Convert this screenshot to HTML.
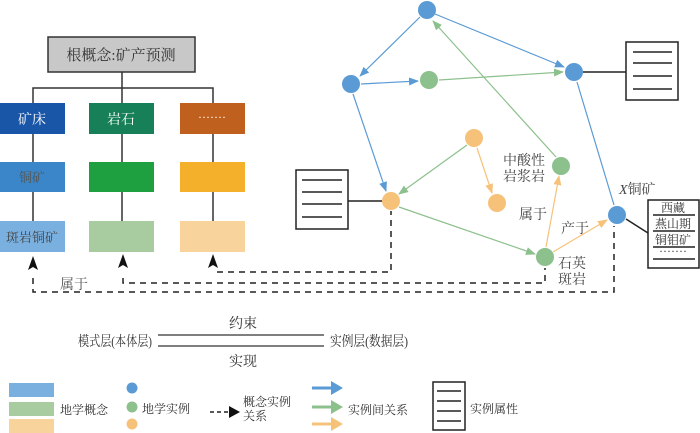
<!DOCTYPE html>
<html><head><meta charset="utf-8"><style>
body{margin:0;background:#fff}
svg{display:block;font-family:"Liberation Serif","Noto Serif CJK SC","Noto Sans CJK SC",serif}
</style></head><body>
<svg width="700" height="433" viewBox="0 0 700 433" xmlns="http://www.w3.org/2000/svg">
<defs>
<marker id="ab" markerWidth="10" markerHeight="8" refX="9" refY="4" orient="auto" markerUnits="userSpaceOnUse"><path d="M0,0 L10,4 L0,8 Z" fill="#5b9bd5"/></marker>
<marker id="ag" markerWidth="10" markerHeight="8" refX="9" refY="4" orient="auto" markerUnits="userSpaceOnUse"><path d="M0,0 L10,4 L0,8 Z" fill="#8cc08c"/></marker>
<marker id="ao" markerWidth="10" markerHeight="8" refX="9" refY="4" orient="auto" markerUnits="userSpaceOnUse"><path d="M0,0 L10,4 L0,8 Z" fill="#f6c27a"/></marker>
</defs>
<rect x="48" y="37" width="147" height="35" fill="#c8c8c8" stroke="#333" stroke-width="1.5"/>
<text x="121" y="60" font-size="15" text-anchor="middle" fill="#333">根概念:矿产预测</text>
<g stroke="#333" stroke-width="1.5" fill="none">
<line x1="122" y1="72" x2="122" y2="252"/>
<polyline points="33,103 33,88 213,88 213,252"/>
<line x1="33" y1="103" x2="33" y2="252"/>
</g>
<rect x="0" y="103" width="65" height="31" fill="#1a56a8"/>
<rect x="89" y="103" width="65" height="31" fill="#178058"/>
<rect x="180" y="103" width="65" height="31" fill="#c0601e"/>
<rect x="0" y="162" width="65" height="30" fill="#3a86c8"/>
<rect x="89" y="162" width="65" height="30" fill="#1fa040"/>
<rect x="180" y="162" width="65" height="30" fill="#f4b02a"/>
<rect x="0" y="221" width="65" height="31" fill="#7ab0e0"/>
<rect x="89" y="221" width="65" height="31" fill="#a8cca0"/>
<rect x="180" y="221" width="65" height="31" fill="#f8d49c"/>
<text x="32" y="124" font-size="14" fill="#fff" text-anchor="middle">矿床</text>
<text x="121" y="124" font-size="14" fill="#fff" text-anchor="middle">岩石</text>
<text x="212" y="121" font-size="12" fill="#fff" text-anchor="middle">·······</text>
<text x="32" y="182" font-size="13" fill="#555" text-anchor="middle">铜矿</text>
<text x="32" y="242" font-size="13" fill="#444" text-anchor="middle">斑岩铜矿</text>
<g fill="#111">
<path d="M33,256 L28,270 L33,267 L38,270 Z"/>
<path d="M123,254 L118,268 L123,265 L128,268 Z"/>
<path d="M213,254 L208,268 L213,265 L218,268 Z"/>
</g>
<g stroke="#222" stroke-width="1.5" fill="none" stroke-dasharray="6,5">
<polyline points="33,278 33,292 614,292 614,226"/>
<polyline points="123,278 123,283 545,283 545,268"/>
<polyline points="217,272 391,272 391,211"/>
</g>
<text x="60" y="289" font-size="14" fill="#555">属于</text>
<g stroke="#222" stroke-width="1.5" fill="#fff">
<rect x="626" y="42" width="52" height="58"/>
<rect x="296" y="170" width="52" height="59"/>
<rect x="648" y="200" width="51" height="68"/>
</g>
<g stroke="#222" stroke-width="1.5">
<line x1="633" y1="52" x2="672" y2="52"/><line x1="633" y1="63" x2="672" y2="63"/><line x1="633" y1="76" x2="672" y2="76"/><line x1="633" y1="89" x2="672" y2="89"/>
<line x1="302" y1="180" x2="342" y2="180"/><line x1="302" y1="192" x2="342" y2="192"/><line x1="302" y1="204" x2="342" y2="204"/><line x1="302" y1="217" x2="342" y2="217"/>
<line x1="653" y1="215" x2="695" y2="215"/><line x1="653" y1="231" x2="695" y2="231"/><line x1="653" y1="247" x2="695" y2="247"/><line x1="653" y1="259" x2="695" y2="259"/>
<line x1="583" y1="72" x2="626" y2="72"/>
<line x1="348" y1="201" x2="382" y2="201"/>
<line x1="626" y1="219" x2="648" y2="233"/>
</g>
<g font-size="12" fill="#333" text-anchor="middle">
<text x="673" y="212">西藏</text>
<text x="673" y="228">燕山期</text>
<text x="673" y="244">铜钼矿</text>
<text x="673" y="255">·······</text>
</g>
<g stroke-width="1.2" fill="none">
<line x1="435" y1="14" x2="564" y2="67" stroke="#5b9bd5" marker-end="url(#ab)"/>
<line x1="420" y1="17" x2="360" y2="76" stroke="#5b9bd5" marker-end="url(#ab)"/>
<line x1="361" y1="84" x2="418" y2="81" stroke="#5b9bd5" marker-end="url(#ab)"/>
<line x1="439" y1="80" x2="563" y2="72" stroke="#8cc08c" marker-end="url(#ag)"/>
<line x1="353" y1="94" x2="386" y2="191" stroke="#5b9bd5" marker-end="url(#ab)"/>
<line x1="577" y1="82" x2="614" y2="205" stroke="#5b9bd5"/>
<line x1="556" y1="157" x2="433" y2="21" stroke="#8cc08c" marker-end="url(#ag)"/>
<line x1="467" y1="145" x2="399" y2="194" stroke="#8cc08c" marker-end="url(#ag)"/>
<line x1="477" y1="148" x2="492" y2="193" stroke="#f6c27a" marker-end="url(#ao)"/>
<line x1="399" y1="207" x2="535" y2="254" stroke="#8cc08c" marker-end="url(#ag)"/>
<line x1="546" y1="247" x2="559" y2="176" stroke="#f6c27a" marker-end="url(#ao)"/>
<line x1="553" y1="252" x2="607" y2="220" stroke="#f6c27a" marker-end="url(#ao)"/>
</g>
<g>
<circle cx="427" cy="10" r="9" fill="#5b9bd5"/>
<circle cx="351" cy="84" r="9" fill="#5b9bd5"/>
<circle cx="429" cy="80" r="9" fill="#8cc08c"/>
<circle cx="574" cy="72" r="9" fill="#5b9bd5"/>
<circle cx="474" cy="138" r="9" fill="#f6c27a"/>
<circle cx="561" cy="166" r="9" fill="#8cc08c"/>
<circle cx="391" cy="201" r="9" fill="#f6c27a"/>
<circle cx="497" cy="203" r="9" fill="#f6c27a"/>
<circle cx="617" cy="215" r="9" fill="#5b9bd5"/>
<circle cx="545" cy="257" r="9" fill="#8cc08c"/>
</g>
<g font-size="14" fill="#444">
<text x="503" y="165">中酸性</text>
<text x="503" y="181">岩浆岩</text>
<text x="519" y="219">属于</text>
<text x="561" y="233">产于</text>
<text x="558" y="268">石英</text>
<text x="558" y="284">斑岩</text>
<text x="619" y="194"><tspan font-style="italic">X</tspan>铜矿</text>
</g>
<line x1="158" y1="335" x2="324" y2="335" stroke="#333" stroke-width="1.2"/>
<line x1="158" y1="346" x2="324" y2="346" stroke="#333" stroke-width="1.2"/>
<g font-size="14" fill="#333">
<text x="243" y="328" text-anchor="middle">约束</text>
<text x="243" y="366" text-anchor="middle">实现</text>
<text x="78" y="346" textLength="74" lengthAdjust="spacingAndGlyphs">模式层(本体层)</text>
<text x="330" y="346" textLength="78" lengthAdjust="spacingAndGlyphs">实例层(数据层)</text>
</g>
<rect x="9" y="383" width="45" height="14" fill="#7ab0e0"/>
<rect x="9" y="402" width="45" height="14" fill="#a8cca0"/>
<rect x="9" y="419" width="45" height="14" fill="#f8d49c"/>
<circle cx="132" cy="388" r="5.5" fill="#5b9bd5"/>
<circle cx="132" cy="407" r="5.5" fill="#8cc08c"/>
<circle cx="132" cy="424" r="5.5" fill="#f6c27a"/>
<line x1="210" y1="412" x2="230" y2="412" stroke="#222" stroke-width="1.5" stroke-dasharray="4,3"/>
<path d="M229,406 L240,412 L229,418 Z" fill="#111"/>
<g stroke-width="3">
<line x1="312" y1="388" x2="332" y2="388" stroke="#5b9bd5"/><path d="M331,381 L343,388 L331,395 Z" fill="#5b9bd5"/>
<line x1="312" y1="407" x2="332" y2="407" stroke="#8cc08c"/><path d="M331,400 L343,407 L331,414 Z" fill="#8cc08c"/>
<line x1="312" y1="424" x2="332" y2="424" stroke="#f6c27a"/><path d="M331,417 L343,424 L331,431 Z" fill="#f6c27a"/>
</g>
<rect x="433" y="382" width="32" height="48" fill="#fff" stroke="#222" stroke-width="1.5"/>
<g stroke="#222" stroke-width="1.5"><line x1="437" y1="391" x2="461" y2="391"/><line x1="437" y1="401" x2="461" y2="401"/><line x1="437" y1="411" x2="461" y2="411"/><line x1="437" y1="421" x2="461" y2="421"/></g>
<g font-size="12" fill="#333">
<text x="60" y="414">地学概念</text>
<text x="142" y="413">地学实例</text>
<text x="243" y="406">概念实例</text>
<text x="243" y="420">关系</text>
<text x="348" y="414">实例间关系</text>
<text x="470" y="413">实例属性</text>
</g>
</svg>
</body></html>
